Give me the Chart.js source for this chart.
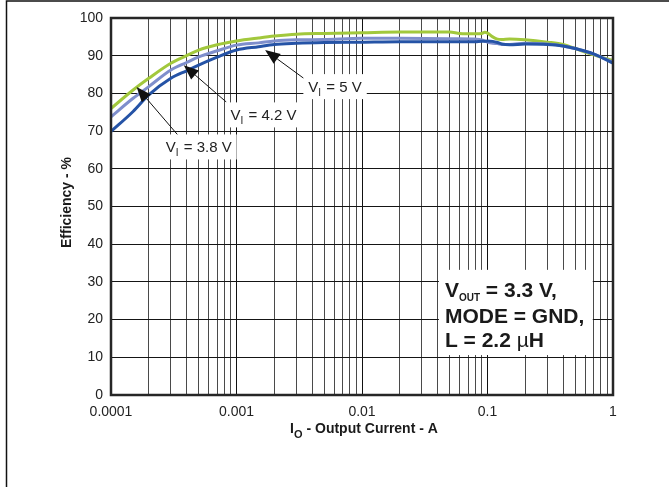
<!DOCTYPE html>
<html>
<head>
<meta charset="utf-8">
<script src="https://cdn.jsdelivr.net/npm/chart.js@4.4.0/dist/chart.umd.min.js"></script>
<style>
html, body { margin: 0; padding: 0; background: #fff; }
#wrap { width: 669px; height: 487px; position: relative; }
</style>
</head>
<body>
<div id="wrap"><canvas id="effChart"></canvas></div>
<script>
"use strict";

// output current, A
var currents = [0.0001, 0.00015, 0.0002, 0.0003, 0.0004, 0.0005, 0.0007, 0.001, 0.0015, 0.002, 0.003, 0.005,
    0.01, 0.02, 0.05, 0.06, 0.08, 0.09, 0.095, 0.1, 0.11, 0.12, 0.13, 0.15, 0.2, 0.3, 0.4, 0.5, 0.7, 1];

// efficiency, %
var eff5V = [76.0, 80.9, 84.0, 88.0, 90.0, 91.5, 92.9, 93.9, 94.7, 95.2, 95.7, 95.9,
    96.1, 96.3, 96.3, 95.9, 95.8, 95.9, 96.2, 96.0, 95.0, 94.4, 94.3, 94.4, 94.2, 93.6, 93.0, 91.9, 90.2, 88.7];
var eff42V = [73.8, 78.7, 81.8, 86.2, 88.2, 89.7, 91.3, 92.8, 93.4, 93.9, 94.2, 94.3,
    94.6, 94.6, 94.5, 94.5, 94.4, 94.2, 93.9, 93.6, 93.3, 93.2, 93.0, 93.0, 93.3, 93.1, 92.6, 91.9, 90.4, 88.3];
var eff38V = [69.9, 75.2, 79.6, 84.0, 86.0, 87.5, 89.6, 91.5, 92.4, 93.0, 93.3, 93.5,
    93.6, 93.7, 93.7, 93.7, 93.7, 93.8, 93.8, 93.9, 93.8, 93.5, 93.1, 92.9, 93.1, 93.0, 92.6, 91.9, 90.5, 88.0];

var xDecades = [0.0001, 0.001, 0.01, 0.1, 1];
var xTickLabels = ["0.0001", "0.001", "0.01", "0.1", "1"];

// arrow callouts: [current, efficiency]
var calloutText = ["5 V", "4.2 V", "3.8 V"];
var calloutTips = [[0.00169, 91.5], [0.00038, 87.5], [0.00016, 81.7]];
var calloutTails = [[0.0035, 83.8], [0.00083, 77.7], [0.00034, 69.0]];
var calloutCenters = [[0.0061, 81.8], [0.00164, 74.3], [0.0005, 65.8]];

// condition box corners
var noteBox = [[0.041, 33.2], [0.69, 10.6]];

var FONT = "'Liberation Sans', Arial, Helvetica, sans-serif";

var overlay = {
    id: "overlay",
    afterDraw: function(chart) {
        var ctx = chart.ctx, xs = chart.scales.x, ys = chart.scales.y, a = chart.chartArea;
        function px(v) { return xs.getPixelForValue(v); }
        function py(v) { return ys.getPixelForValue(v); }
        ctx.save();

        // plot frame
        ctx.strokeStyle = "#262626";
        ctx.lineWidth = 2.5;
        ctx.strokeRect(a.left, a.top, a.right - a.left, a.bottom - a.top);

        // page frame (top + left)
        ctx.strokeStyle = "#111";
        ctx.lineWidth = 1.5;
        ctx.beginPath();
        ctx.moveTo(6.5, chart.height);
        ctx.lineTo(6.5, 1);
        ctx.lineTo(chart.width, 1);
        ctx.stroke();

        // arrows
        ctx.fillStyle = "#111";
        ctx.strokeStyle = "#111";
        ctx.lineWidth = 1;
        calloutTips.forEach(function(t, i) {
            var tx = px(t[0]), ty = py(t[1]), sx = px(calloutTails[i][0]), sy = py(calloutTails[i][1]);
            var ang = Math.atan2(ty - sy, tx - sx), len = 15, hw = 6;
            var bx = tx - len * Math.cos(ang), by = ty - len * Math.sin(ang);
            ctx.beginPath();
            ctx.moveTo(sx, sy);
            ctx.lineTo(bx, by);
            ctx.stroke();
            ctx.beginPath();
            ctx.moveTo(tx, ty);
            ctx.lineTo(bx + hw * Math.sin(ang), by - hw * Math.cos(ang));
            ctx.lineTo(bx - hw * Math.sin(ang), by + hw * Math.cos(ang));
            ctx.closePath();
            ctx.fill();
        });

        // callout labels
        ctx.textBaseline = "alphabetic";
        calloutCenters.forEach(function(c, i) {
            var cx = px(c[0]), cy = py(c[1]);
            ctx.font = "15px " + FONT;
            var w1 = ctx.measureText("V").width, w3 = ctx.measureText(" = " + calloutText[i]).width;
            ctx.font = "10px " + FONT;
            var w2 = ctx.measureText("I").width + 1;
            var w = w1 + w2 + w3, bw = w + 10, bh = 25;
            ctx.fillStyle = "#fff";
            ctx.fillRect(cx - bw / 2, cy - bh / 2, bw, bh);
            ctx.fillStyle = "#222";
            var x0 = cx - w / 2, base = cy + 5;
            ctx.font = "15px " + FONT;
            ctx.fillText("V", x0, base);
            ctx.font = "10px " + FONT;
            ctx.fillText("I", x0 + w1, base + 4);
            ctx.font = "15px " + FONT;
            ctx.fillText(" = " + calloutText[i], x0 + w1 + w2, base);
        });

        // condition box
        var l = px(noteBox[0][0]), t = py(noteBox[0][1]), r = px(noteBox[1][0]), b = py(noteBox[1][1]);
        ctx.fillStyle = "#fff";
        ctx.fillRect(l, t, r - l, b - t);
        ctx.fillStyle = "#1a1a1a";
        var tx = l + 6, x;
        ctx.font = "bold 21px " + FONT;
        ctx.fillText("V", tx, t + 27);
        x = tx + ctx.measureText("V").width;
        ctx.font = "bold 10px " + FONT;
        ctx.fillText("OUT", x, t + 31);
        x += ctx.measureText("OUT").width;
        ctx.font = "bold 21px " + FONT;
        ctx.fillText(" = 3.3 V,", x, t + 27);
        ctx.fillText("MODE = GND,", tx, t + 53);
        ctx.fillText("L = 2.2 ", tx, t + 77);
        x = tx + ctx.measureText("L = 2.2 ").width;
        ctx.font = "21px " + FONT;
        ctx.fillText("\u00b5", x, t + 77);
        x += ctx.measureText("\u00b5").width;
        ctx.font = "bold 21px " + FONT;
        ctx.fillText("H", x, t + 77);

        // axis titles
        ctx.fillStyle = "#1a1a1a";
        ctx.font = "bold 14px " + FONT;
        ctx.save();
        ctx.translate(71, (a.top + a.bottom) / 2 - 4);
        ctx.rotate(-Math.PI / 2);
        ctx.textAlign = "center";
        ctx.fillText("Efficiency - %", 0, 0);
        ctx.restore();

        var p1 = "I", p2 = "O", p3 = " - Output Current - A";
        ctx.font = "bold 14px " + FONT;
        var w1 = ctx.measureText(p1).width, w3 = ctx.measureText(p3).width;
        ctx.font = "bold 11px " + FONT;
        var w2 = ctx.measureText(p2).width;
        var sx = (a.left + a.right) / 2 + 2 - (w1 + w2 + w3) / 2, base = a.bottom + 38;
        ctx.font = "bold 14px " + FONT;
        ctx.fillText(p1, sx, base);
        ctx.font = "bold 11px " + FONT;
        ctx.fillText(p2, sx + w1, base + 5);
        ctx.font = "bold 14px " + FONT;
        ctx.fillText(p3, sx + w1 + w2, base);
        ctx.restore();
    }
};

function series(values) {
    return values.map(function(v, i) { return { x: currents[i], y: v }; });
}

var chart = new Chart(document.getElementById("effChart"), {
    type: "line",
    plugins: [overlay],
    data: {
        datasets: [{
            label: "VI = 3.8 V",
            data: series(eff38V),
            borderColor: "#2553a6"
        }, {
            label: "VI = 4.2 V",
            data: series(eff42V),
            borderColor: "#7e8ecc"
        }, {
            label: "VI = 5 V",
            data: series(eff5V),
            borderColor: "#a2c83c"
        }]
    },
    options: {
        responsive: true,
        maintainAspectRatio: false,
        animation: false,
        layout: { padding: { top: 18, right: 56, left: 0, bottom: 0 } },
        elements: {
            point: { radius: 0 },
            line: { borderWidth: 3, cubicInterpolationMode: "monotone", fill: false }
        },
        plugins: { legend: { display: false }, tooltip: { enabled: false } },
        scales: {
            x: {
                type: "logarithmic",
                min: 0.0001,
                max: 1,
                afterBuildTicks: function(s) {
                    var ticks = [];
                    xDecades.forEach(function(d, i) {
                        ticks.push({ value: d });
                        if (i < xDecades.length - 1) for (var m = 2; m < 10; m++) ticks.push({ value: d * m });
                    });
                    s.ticks = ticks;
                },
                afterFit: function(s) { s.height = 92; },
                grid: {
                    drawTicks: false,
                    lineWidth: 1,
                    color: function(c) {
                        var v = c.tick && c.tick.value;
                        return xDecades.indexOf(v) >= 0 ? "#111" : "#4a4a4a";
                    }
                },
                border: { display: false },
                ticks: {
                    autoSkip: false,
                    maxRotation: 0,
                    padding: 9,
                    color: "#222",
                    font: { family: FONT, size: 14 },
                    callback: function(v) {
                        var i = xDecades.indexOf(v);
                        return i >= 0 ? xTickLabels[i] : "";
                    }
                }
            },
            y: {
                min: 0,
                max: 100,
                afterFit: function(s) { s.width = 111; },
                grid: { drawTicks: false, color: "#151515", lineWidth: 1 },
                border: { display: false },
                ticks: {
                    stepSize: 10,
                    padding: 8,
                    color: "#222",
                    font: { family: FONT, size: 14 }
                }
            }
        }
    }
});
</script>
</body>
</html>
